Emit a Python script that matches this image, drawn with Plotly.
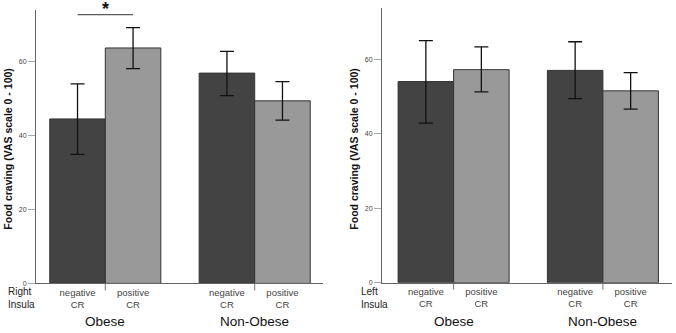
import plotly.graph_objects as go

W, H = 676, 333

groups = ["Obese", "Non-Obese"]
subgroups = ["negative<br>CR", "positive<br>CR"]

# Right insula panel (mean, upper error, lower error)
right_mean = [[44.5, 63.7], [56.9, 49.4]]
right_hi = [[54.0, 69.2], [62.8, 54.6]]
right_lo = [[34.9, 58.1], [50.8, 44.2]]

# Left insula panel
left_mean = [[54.1, 57.3], [57.1, 51.6]]
left_hi = [[65.1, 63.4], [64.8, 56.5]]
left_lo = [[42.9, 51.3], [49.5, 46.7]]

y_ticks = [0, 20, 40, 60]
sig_level = 72.7

bar_colors = ["#434343", "#999999"]
GROUP_STEP = 2.69

def px_x(a, b):
    return [a / W, b / W]

def px_y(bottom, top):
    return [(H - bottom) / H, (H - top) / H]

fig = go.Figure()

panels = [
    dict(mean=right_mean, hi=right_hi, lo=right_lo, xa="x", ya="y",
         xd=px_x(36, 323), yd=px_y(286, 10), xr=[-0.748, 4.42], yr=[0, 74],
         side="Right<br>Insula", side_x=6, title_x=8),
    dict(mean=left_mean, hi=left_hi, lo=left_lo, xa="x2", ya="y2",
         xd=px_x(382, 672), yd=px_y(285.3, 8), xr=[-0.79, 4.435], yr=[0, 73.9],
         side="Left<br>Insula", side_x=359, title_x=354),
]

for p in panels:
    for s in range(2):
        xs, ys, up, dn = [], [], [], []
        for g in range(2):
            xs.append(g * GROUP_STEP + s)
            m = p["mean"][g][s]
            ys.append(m)
            up.append(p["hi"][g][s] - m)
            dn.append(m - p["lo"][g][s])
        fig.add_trace(go.Bar(
            x=xs, y=ys, width=1.0, xaxis=p["xa"], yaxis=p["ya"],
            marker=dict(color=bar_colors[s], line=dict(color="#333333", width=1)),
            error_y=dict(type="data", symmetric=False, array=up, arrayminus=dn,
                         color="#111111", thickness=1.3, width=7),
            showlegend=False, hoverinfo="skip",
        ))

shapes = []
annotations = []
for i, p in enumerate(panels):
    suf = "" if i == 0 else "2"
    tickvals, ticktext = [], []
    for g in range(2):
        for s in range(2):
            tickvals.append(g * GROUP_STEP + s)
            ticktext.append(subgroups[s])
        center = g * GROUP_STEP + 0.5
        # divider tick between sub-bars
        shapes.append(dict(type="line", xref="x" + suf, yref="paper",
                           x0=center, x1=center,
                           y0=p["yd"][0], y1=p["yd"][0] - 7 / H,
                           line=dict(color="#777777", width=1)))
        annotations.append(dict(text=groups[g], xref="x" + suf, yref="paper",
                                x=center, y=(H - 324) / H, showarrow=False,
                                font=dict(size=13.5, color="#111111"),
                                xanchor="center", yanchor="middle"))
    fig.update_layout(**{
        "xaxis" + suf: dict(domain=p["xd"], range=p["xr"], tickvals=tickvals,
                            ticktext=ticktext, showline=True, linecolor="#666666",
                            linewidth=1, ticks="", showgrid=False, zeroline=False,
                            tickfont=dict(size=9.5, color="#444444"),
                            anchor="y" + suf, fixedrange=True),
        "yaxis" + suf: dict(domain=p["yd"], range=p["yr"], tickvals=y_ticks,
                            showline=True, linecolor="#666666", linewidth=1,
                            ticks="outside", ticklen=7, tickcolor="#aaaaaa",
                            showgrid=False, zeroline=False,
                            tickfont=dict(size=7, color="#444444"),
                            anchor="x" + suf, fixedrange=True),
    })
    annotations.append(dict(text=p["side"], xref="paper", yref="paper",
                            x=p["side_x"] / W, y=(H - 301) / H, showarrow=False,
                            align="left", xanchor="left", yanchor="middle",
                            font=dict(size=10, color="#222222")))
    annotations.append(dict(text="<b>Food craving (VAS scale 0 - 100)</b>",
                            xref="paper", yref="paper", x=p["title_x"] / W,
                            y=(H - 151) / H, textangle=-90, showarrow=False,
                            xanchor="center", yanchor="middle",
                            font=dict(size=10.5, color="#111111")))

# significance bracket on the right insula obese group
shapes.append(dict(type="line", xref="x", yref="y", x0=0, x1=1,
                   y0=sig_level, y1=sig_level,
                   line=dict(color="#333333", width=1)))
annotations.append(dict(text="<b>*</b>", xref="x", yref="y", x=0.5, y=sig_level,
                        showarrow=False, yanchor="bottom", yshift=-6,
                        font=dict(size=18, color="#111111")))

fig.update_layout(
    width=W, height=H,
    margin=dict(l=0, r=0, t=0, b=0),
    paper_bgcolor="white", plot_bgcolor="white",
    font=dict(family="Liberation Sans, Arial, sans-serif"),
    barmode="overlay",
    shapes=shapes, annotations=annotations,
)

fig.write_html(
    "out.html",
    config={"displayModeBar": False},
    post_script="document.body.style.margin='0';document.body.style.overflow='hidden';",
)
